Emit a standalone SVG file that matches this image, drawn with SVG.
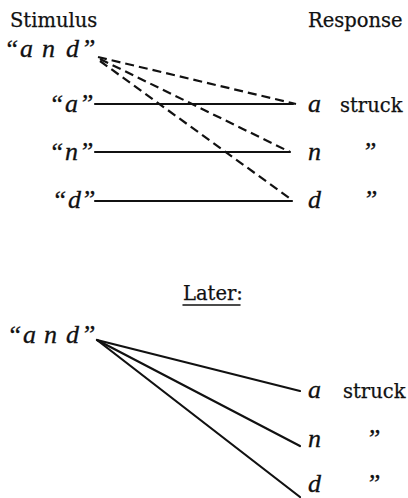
<svg xmlns="http://www.w3.org/2000/svg" width="408" height="498" viewBox="0 0 408 498">
<style>
.r{font-family:"DejaVu Serif","Liberation Serif",serif;font-size:19.5px;fill:#111;stroke:#111;stroke-width:0.25}
.i{font-family:"Liberation Serif","DejaVu Serif",serif;font-style:italic;font-size:26px;fill:#111;stroke:#111;stroke-width:0.3}
.s{stroke:#111;stroke-width:2.2;fill:none;stroke-linecap:round}
.d{stroke-dasharray:9 5;stroke-linecap:butt}
</style>
<rect width="408" height="498" fill="#fff"/>
<g id="hdr-stimulus"><text class="r" x="10" y="27">Stimulus</text></g>
<g id="hdr-response"><text class="r" x="308" y="27">Response</text></g>
<g id="s-and"><text class="i" y="57"><tspan x="4">“</tspan><tspan x="20">a</tspan><tspan x="42">n</tspan><tspan x="66">d</tspan><tspan x="81">”</tspan></text></g>
<g id="s-a"><text class="i" y="112"><tspan x="49">“</tspan><tspan x="65">a</tspan><tspan x="79">”</tspan></text></g>
<g id="s-n"><text class="i" y="160"><tspan x="49">“</tspan><tspan x="65">n</tspan><tspan x="79">”</tspan></text></g>
<g id="s-d"><text class="i" y="208"><tspan x="52">“</tspan><tspan x="68">d</tspan><tspan x="81">”</tspan></text></g>
<g id="r-a"><text class="i" x="308" y="112">a</text><text class="r" x="340" y="112">struck</text></g>
<g id="r-n"><text class="i" x="308" y="160">n</text><text class="i" x="362" y="160">”</text></g>
<g id="r-d"><text class="i" x="308" y="208">d</text><text class="i" x="363" y="208">”</text></g>
<g id="later"><text class="r" x="183" y="300">Later:</text><line class="s" x1="183" y1="305" x2="240" y2="305" style="stroke-width:1.5"/></g>
<g id="s-and2"><text class="i" y="343"><tspan x="7">“</tspan><tspan x="23">a</tspan><tspan x="44">n</tspan><tspan x="66">d</tspan><tspan x="81">”</tspan></text></g>
<g id="r-a2"><text class="i" x="308" y="398">a</text><text class="r" x="343" y="398">struck</text></g>
<g id="r-n2"><text class="i" x="308" y="447">n</text><text class="i" x="366" y="447">”</text></g>
<g id="r-d2"><text class="i" x="308" y="492">d</text><text class="i" x="366" y="492">”</text></g>
<g id="connectors">
<line class="s" x1="95" y1="104" x2="293" y2="104"/>
<line class="s" x1="95" y1="152" x2="290" y2="152"/>
<line class="s" x1="95" y1="201" x2="292" y2="201"/>
<line class="s d" x1="98" y1="57" x2="296" y2="104"/>
<line class="s d" x1="100" y1="59" x2="290" y2="152"/>
<line class="s d" x1="100" y1="61" x2="292" y2="200"/>
<line class="s" x1="97" y1="340" x2="300" y2="391"/>
<line class="s" x1="97" y1="340" x2="300" y2="446"/>
<line class="s" x1="97" y1="340" x2="300" y2="497"/>
</g>
</svg>
